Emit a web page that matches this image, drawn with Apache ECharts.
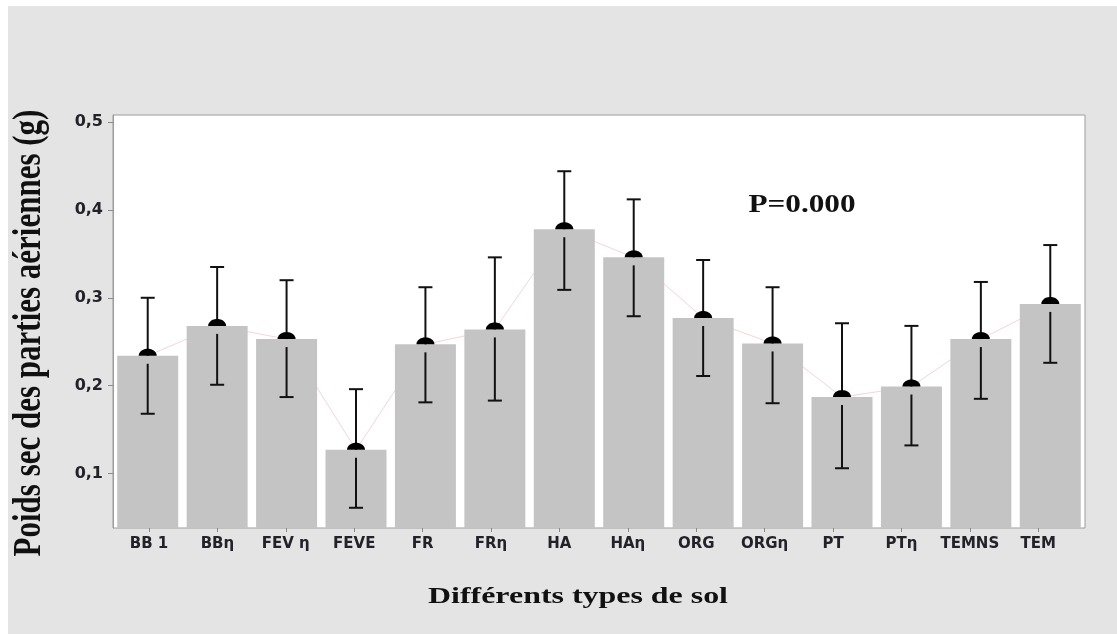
<!DOCTYPE html>
<html>
<head>
<meta charset="utf-8">
<script src="https://cdn.jsdelivr.net/npm/echarts@6/dist/echarts.min.js"></script>
<style>
  html, body { margin: 0; padding: 0; width: 1117px; height: 634px; overflow: hidden; background: #ffffff; }
  #chart { position: absolute; left: 8px; top: 6px; width: 1109px; height: 628px; }
</style>
</head>
<body>
<div id="chart"></div>
<script>
// Soil types on the horizontal axis
const categories = ['BB 1', 'BBη', 'FEV η', 'FEVE', 'FR', 'FRη', 'HA', 'HAη', 'ORG', 'ORGη', 'PT', 'PTη', 'TEMNS', 'TEM'];
// Mean aerial dry weight (g) per soil type
const means  = [0.234, 0.268, 0.253, 0.127, 0.247, 0.264, 0.378, 0.346, 0.277, 0.248, 0.187, 0.199, 0.253, 0.293];
// Lower and upper ends of the error bars (g)
const lowers = [0.168, 0.201, 0.187, 0.061, 0.181, 0.183, 0.309, 0.279, 0.211, 0.180, 0.106, 0.132, 0.185, 0.226];
const uppers = [0.300, 0.335, 0.320, 0.196, 0.312, 0.346, 0.444, 0.412, 0.343, 0.312, 0.271, 0.268, 0.318, 0.360];
// Value axis ticks
const yTicks = [0.1, 0.2, 0.3, 0.4, 0.5];
const yMin = 0.038, yMax = 0.508;

const chart = echarts.init(document.getElementById('chart'), null, { renderer: 'canvas' });

const errorData = categories.map((c, i) => [i, means[i], lowers[i], uppers[i]]);

function renderError(params, api) {
  const i = api.value(0);
  const m = api.coord([i, api.value(1)]);
  const lo = api.coord([i, api.value(2)]);
  const hi = api.coord([i, api.value(3)]);
  const x = m[0];
  const cap = 7, gap = 8, rx = 9, ry = 7;
  const ink = '#111111';
  const seg = (x1, y1, x2, y2) => ({
    type: 'line',
    shape: { x1, y1, x2, y2 },
    style: { stroke: ink, lineWidth: 2 }
  });
  const dome = [];
  for (let k = 0; k <= 24; k++) {
    const t = Math.PI * k / 24;
    dome.push([x - rx * Math.cos(t), m[1] - ry * Math.sin(t)]);
  }
  return {
    type: 'group',
    children: [
      seg(x, hi[1], x, m[1]),
      seg(x - cap, hi[1], x + cap, hi[1]),
      seg(x, m[1] + gap, x, lo[1]),
      seg(x - cap, lo[1], x + cap, lo[1]),
      { type: 'polygon', shape: { points: dome }, style: { fill: '#000000' } }
    ]
  };
}

const option = {
  backgroundColor: '#e4e4e4',
  animation: false,
  grid: [
    { left: 105, top: 109, width: 972, height: 413, show: true, backgroundColor: '#ffffff', borderColor: '#9c9c9c', borderWidth: 1 },
    { left: 106.8, top: 109, width: 957.6, height: 413, show: false }
  ],
  xAxis: [
    { type: 'category', gridIndex: 0, data: categories,
      axisLine: { show: false }, axisTick: { show: false }, axisLabel: { show: false } },
    { type: 'category', gridIndex: 1, data: categories,
      axisLine: { show: false },
      axisTick: { show: true, alignWithLabel: true, length: 4, lineStyle: { color: '#8a8a8a', width: 1 } },
      axisLabel: { margin: 9, fontFamily: 'DejaVu Sans', fontSize: 15, fontWeight: 'bold', color: '#222228', interval: 0 } }
  ],
  yAxis: [
    { type: 'value', gridIndex: 0, min: yMin, max: yMax,
      axisLine: { show: true, lineStyle: { color: '#9c9c9c' } },
      axisTick: { show: true, length: 5, customValues: yTicks, lineStyle: { color: '#8a8a8a' } },
      axisLabel: { customValues: yTicks, margin: 10, fontFamily: 'DejaVu Sans', fontSize: 16, fontWeight: 'bold', color: '#222228',
        formatter: v => v.toFixed(1).replace('.', ',') },
      splitLine: { show: false } },
    { type: 'value', gridIndex: 1, min: yMin, max: yMax, show: false }
  ],
  graphic: [
    { type: 'text', x: 22, y: 327, rotation: Math.PI / 2, scaleY: 1.3,
      style: { text: 'Poids sec des parties aériennes (g)', font: 'bold 31px "Liberation Serif"', fill: '#111111',
        textAlign: 'center', textVerticalAlign: 'middle', align: 'center', verticalAlign: 'middle' } },
    { type: 'text', x: 570, y: 591, scaleX: 1.33,
      style: { text: 'Différents types de sol', font: 'bold 24px "Liberation Serif"', fill: '#111111',
        textAlign: 'center', textVerticalAlign: 'middle', align: 'center', verticalAlign: 'middle' } },
    { type: 'text', x: 794, y: 200, scaleX: 1.25,
      style: { text: 'P=0.000', font: 'bold 25px "Liberation Serif"', fill: '#111111',
        textAlign: 'center', textVerticalAlign: 'middle', align: 'center', verticalAlign: 'middle' } }
  ],
  series: [
    { type: 'line', xAxisIndex: 0, yAxisIndex: 0, data: means, symbol: 'none', silent: true,
      lineStyle: { color: '#f2d6da', width: 1 }, z: 1 },
    { type: 'bar', xAxisIndex: 0, yAxisIndex: 0, data: means, barWidth: 61, clip: true,
      itemStyle: { color: '#c4c4c4' }, z: 2 },
    { type: 'custom', xAxisIndex: 0, yAxisIndex: 0, data: errorData, renderItem: renderError,
      encode: { x: 0, y: [1, 2, 3] }, z: 3 }
  ]
};

chart.setOption(option);
</script>
</body>
</html>
